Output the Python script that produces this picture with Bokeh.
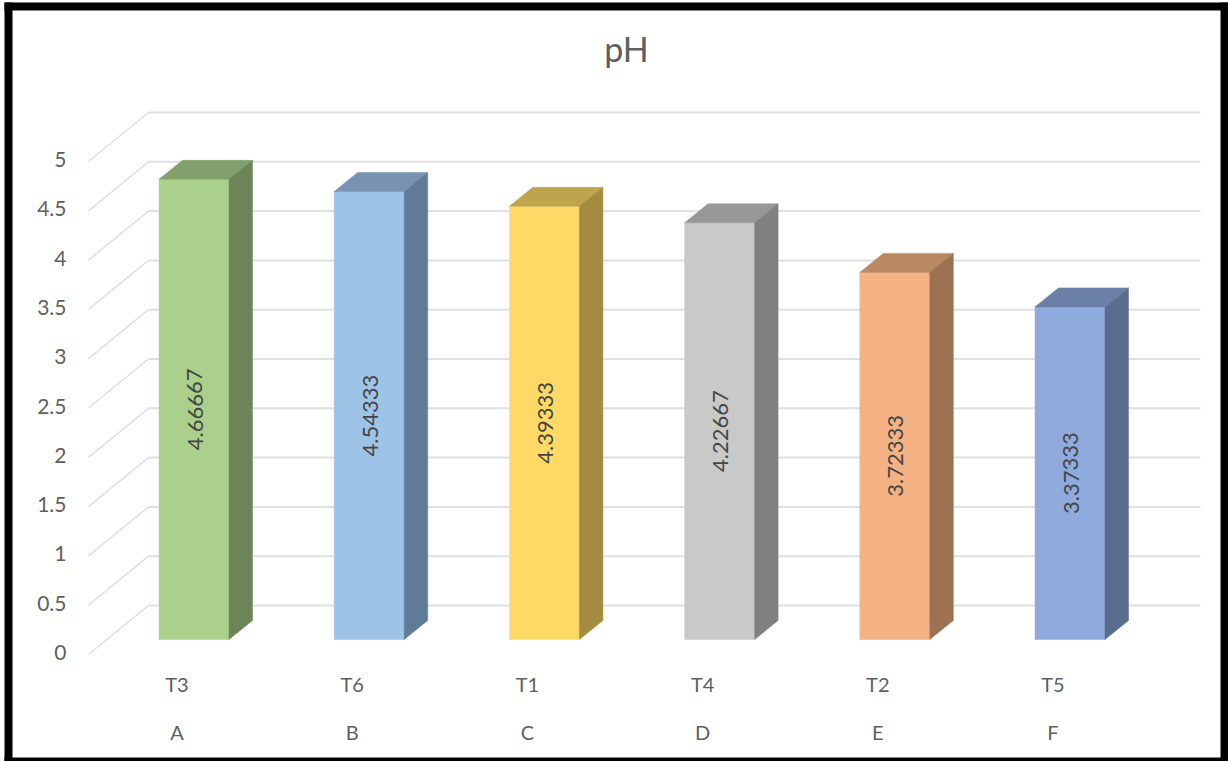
from bokeh.core.properties import value
from bokeh.embed import file_html
from bokeh.models import ColumnDataSource, Range1d
from bokeh.plotting import figure
from bokeh.resources import INLINE

# Treatment means, sorted from highest to lowest pH
treatments = ["T3", "T6", "T1", "T4", "T2", "T5"]
groups = ["A", "B", "C", "D", "E", "F"]
ph_values = [4.66667, 4.54333, 4.39333, 4.22667, 3.72333, 3.37333]
ph_labels = ["4.66667", "4.54333", "4.39333", "4.22667", "3.72333", "3.37333"]
tick_values = [0, 0.5, 1, 1.5, 2, 2.5, 3, 3.5, 4, 4.5, 5]
tick_labels = ["0", "0.5", "1", "1.5", "2", "2.5", "3", "3.5", "4", "4.5", "5"]

front_colors = ["#ABD08C", "#9DC3E6", "#FFD966", "#C9C9C9", "#F4B183", "#8FAADC"]
top_colors = ["#81A06B", "#7792B2", "#BFA34D", "#979797", "#B98962", "#6B80A6"]
side_colors = ["#6B8559", "#607B98", "#A38B40", "#808080", "#9C7253", "#5B6D8F"]

FONT = "Lato"
TEXT_GREY = "#5F5F5F"
GRID_GREY = "#E0E0E0"

# Pixel sizes of one category slot and one pH unit; ranges below derive from them
SLOT_PX = 175.2
UNIT_PX = 98.6
ORIGIN_X_PX = 193.5
ORIGIN_Y_PX = 639.0


def dx(px):
    return px / SLOT_PX


def dy(px):
    return px / UNIT_PX


def at_x(px):
    return dx(px - ORIGIN_X_PX)


def at_y(px):
    return dy(ORIGIN_Y_PX - px)


# Oblique projection of the bar depth and of the chart's back wall
half_w = dx(35)
depth_x = dx(23.5)
depth_y = dy(19)
wall_front_x = at_x(88)
wall_back_x = at_x(148)
wall_end_x = at_x(1200)
wall_front_y = at_y(654)
wall_back_y = at_y(605)

p = figure(
    width=1228,
    height=761,
    output_backend="svg",
    toolbar_location=None,
    x_range=Range1d(at_x(0), at_x(1228)),
    y_range=Range1d(at_y(761), at_y(0)),
    min_border=0,
    background_fill_color="white",
    border_fill_color="white",
    outline_line_color=None,
)
p.xaxis.visible = False
p.yaxis.visible = False
p.grid.visible = False

# Heavy black frame around the chart area
p.quad(
    left=[at_x(4), at_x(4), at_x(4), at_x(1220)],
    right=[at_x(12), at_x(1228), at_x(1228), at_x(1228)],
    top=[at_y(2), at_y(2), at_y(757), at_y(2)],
    bottom=[at_y(761), at_y(10), at_y(761), at_y(761)],
    fill_color="black",
    line_color=None,
)

# Back wall gridlines and the diagonals running to the front of the floor
p.multi_line(
    xs=[[wall_back_x, wall_end_x] for _ in tick_values],
    ys=[[v + wall_back_y, v + wall_back_y] for v in tick_values],
    line_color=GRID_GREY,
    line_width=2,
)
p.multi_line(
    xs=[[wall_front_x, wall_back_x] for _ in tick_values],
    ys=[[v + wall_front_y, v + wall_back_y] for v in tick_values],
    line_color=GRID_GREY,
    line_width=1.5,
)

# Each bar is made of a front face, a top face and a right side face
indices = list(range(len(ph_values)))
front = ColumnDataSource(dict(
    left=[i - half_w for i in indices],
    right=[i + half_w for i in indices],
    top=ph_values,
    bottom=[0] * len(ph_values),
    color=front_colors,
))
p.quad(left="left", right="right", top="top", bottom="bottom",
       fill_color="color", line_color="color", line_width=0.5, source=front)

p.patches(
    xs=[[i - half_w, i + half_w, i + half_w + depth_x, i - half_w + depth_x] for i in indices],
    ys=[[v, v, v + depth_y, v + depth_y] for v in ph_values],
    fill_color=top_colors,
    line_color=top_colors,
    line_width=0.5,
)
p.patches(
    xs=[[i + half_w, i + half_w + depth_x, i + half_w + depth_x, i + half_w] for i in indices],
    ys=[[0, depth_y, v + depth_y, v] for v in ph_values],
    fill_color=side_colors,
    line_color=side_colors,
    line_width=0.5,
)

# Values written vertically in the middle of each bar
p.text(
    x=[i + dx(1) for i in indices],
    y=[v / 2 for v in ph_values],
    text=ph_labels,
    angle=1.5708,
    text_align="center",
    text_baseline="middle",
    text_font=value(FONT),
    text_font_size="22px",
    text_color="#454545",
)

# Value scale beside the diagonals
p.text(
    x=[at_x(66)] * len(tick_values),
    y=[v + wall_front_y + dy(2) for v in tick_values],
    text=tick_labels,
    text_align="right",
    text_baseline="middle",
    text_font=value(FONT),
    text_font_size="21px",
    text_color=TEXT_GREY,
)

# Two-level category labels under the floor
label_x = [i + dx(-17) for i in indices]
p.text(x=label_x, y=[at_y(683)] * len(indices), text=treatments,
       text_align="center", text_baseline="middle", text_font=value(FONT),
       text_font_size="20px", text_color=TEXT_GREY)
p.text(x=label_x, y=[at_y(731)] * len(indices), text=groups,
       text_align="center", text_baseline="middle", text_font=value(FONT),
       text_font_size="20px", text_color=TEXT_GREY)

# Chart title
p.text(x=[at_x(626)], y=[at_y(48)], text=["pH"],
       text_align="center", text_baseline="middle", text_font=value(FONT),
       text_font_size="34px", text_color=TEXT_GREY)

open("out.html", "w").write(file_html(p, INLINE))
